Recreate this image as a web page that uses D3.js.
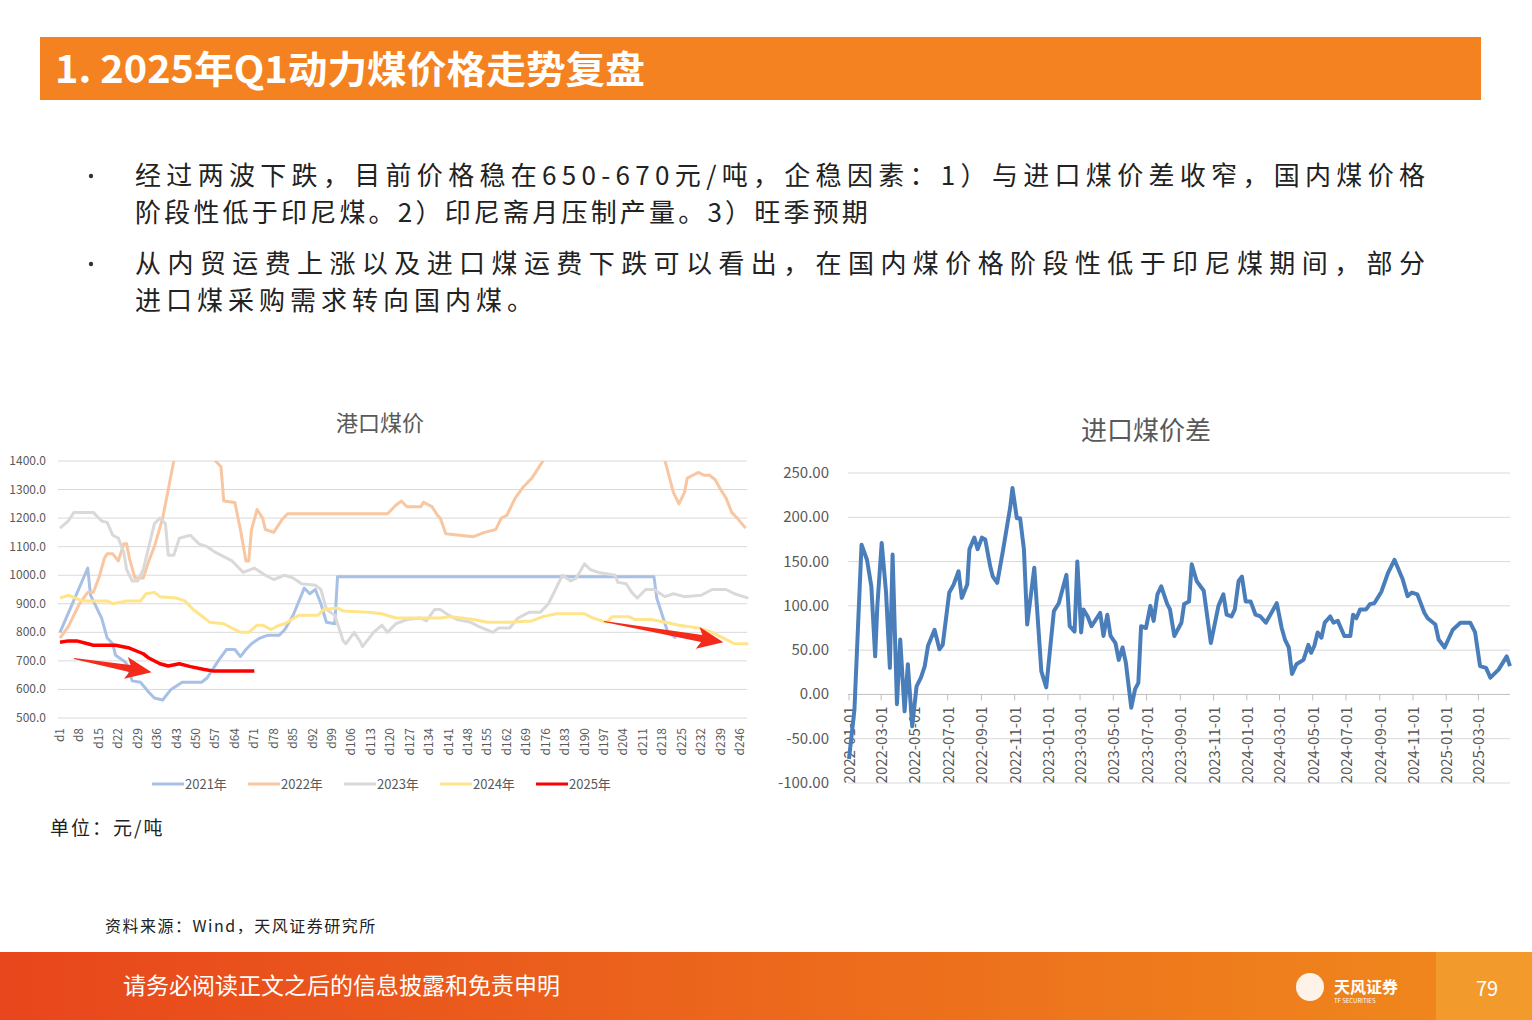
<!DOCTYPE html>
<html><head><meta charset="utf-8">
<script src="https://cdn.jsdelivr.net/npm/d3@7"></script>
<style>
body{margin:0;background:#fff;}
text{font-family:"Noto Sans CJK SC","Noto Sans",sans-serif;}
</style></head>
<body>
<script>
'use strict';
// ---- left chart: port coal price, [day, value]
const dayTicks = ["d1","d8","d15","d22","d29","d36","d43","d50","d57","d64","d71","d78","d85","d92","d99","d106","d113","d120","d127","d134","d141","d148","d155","d162","d169","d176","d183","d190","d197","d204","d211","d218","d225","d232","d239","d246"];
const priceTicks = [500,600,700,800,900,1000,1100,1200,1300,1400];
const years = ["2021年","2022年","2023年","2024年","2025年"];
const s2021 = [[1,800],[11,1025],[12,930],[16,850],[18,780],[20,760],[21,720],[24,700],[25,690],[27,630],[30,625],[33,590],[35,570],[38,563],[41,600],[45,625],[52,625],[54,640],[58,700],[61,740],[64,740],[66,715],[68,740],[70,760],[73,780],[76,790],[80,790],[82,810],[85,860],[89,955],[91,935],[93,950],[95,900],[97,835],[100,830],[101,995],[215,995],[216,920],[218,860],[220,800],[223,780]];
const s2022 = [[1,780],[4,820],[8,900],[11,940],[13,940],[15,990],[17,1060],[18,1075],[20,1075],[22,1050],[24,1110],[25,1110],[26,1060],[28,990],[31,990],[33,1050],[35,1100],[38,1200],[42,1400],[46,1500],[53,1500],[57,1400],[59,1380],[60,1260],[64,1255],[66,1160],[68,1050],[69,1050],[70,1160],[72,1230],[74,1200],[75,1160],[78,1150],[81,1195],[83,1215],[119,1215],[122,1245],[124,1260],[126,1240],[131,1240],[132,1255],[135,1240],[137,1210],[138,1200],[140,1145],[145,1140],[150,1135],[154,1150],[158,1160],[160,1200],[162,1210],[165,1270],[168,1310],[171,1340],[173,1370],[175,1400],[180,1480],[214,1480],[219,1400],[222,1290],[224,1250],[226,1290],[227,1340],[229,1350],[231,1360],[233,1350],[235,1350],[237,1335],[239,1300],[241,1270],[243,1220],[245,1200],[248,1165]];
const s2023 = [[1,1165],[4,1190],[6,1220],[13,1220],[16,1190],[18,1185],[20,1140],[22,1130],[24,1080],[25,1020],[27,980],[29,980],[31,1020],[33,1100],[35,1180],[37,1200],[39,1180],[40,1070],[42,1070],[44,1130],[48,1140],[51,1110],[54,1100],[57,1080],[60,1065],[63,1050],[67,1010],[71,1025],[75,1000],[78,985],[82,1000],[85,990],[88,970],[93,965],[95,950],[97,880],[100,860],[102,800],[103,770],[104,760],[107,800],[109,770],[110,750],[114,800],[117,825],[119,800],[122,830],[126,845],[131,850],[133,840],[136,880],[138,880],[141,860],[144,845],[149,835],[152,820],[157,800],[159,815],[163,815],[166,850],[170,870],[174,870],[177,900],[180,960],[182,1000],[185,980],[187,990],[190,1040],[192,1020],[195,1010],[201,1000],[202,975],[205,970],[207,940],[209,920],[212,950],[215,950],[219,925],[222,935],[226,925],[232,930],[236,950],[241,950],[244,935],[249,920]];
const s2024 = [[1,920],[4,930],[9,910],[18,910],[20,900],[25,910],[30,910],[32,935],[35,940],[37,925],[43,920],[46,910],[49,880],[53,850],[55,835],[60,830],[63,815],[66,800],[69,800],[72,825],[74,825],[77,810],[80,825],[82,830],[87,860],[94,860],[96,880],[101,885],[103,875],[112,870],[117,865],[122,850],[128,850],[138,850],[142,855],[150,845],[155,835],[162,835],[171,840],[175,855],[180,865],[190,865],[193,850],[198,835],[200,855],[206,855],[208,845],[214,845],[219,835],[224,825],[231,815],[236,800],[239,785],[244,760],[249,760]];
const s2025 = [[1,765],[4,770],[7,770],[11,760],[13,755],[21,755],[26,745],[31,725],[33,710],[37,690],[40,682],[44,690],[48,680],[53,670],[56,665],[71,665]];
const leftSeries = [s2021, s2022, s2023, s2024, s2025];
const leftColors = ["#A9C0E6","#F8C6A0","#D9D9D9","#FFE48A","#FF0000"];
const leftWidths = [3,3,3,3,3.5];

// ---- right chart: import coal price spread
const spreadTicks = [-100,-50,0,50,100,150,200,250];
const spread = [["2022-01-01",-73],["2022-01-11",-17],["2022-01-24",169],["2022-02-03",152],["2022-02-11",122],["2022-02-18",43],["2022-02-22",100],["2022-03-02",171],["2022-03-10",115],["2022-03-17",30],["2022-03-22",158],["2022-03-30",-11],["2022-04-05",62],["2022-04-13",-19],["2022-04-19",34],["2022-04-27",-36],["2022-05-05",9],["2022-05-13",19],["2022-05-20",32],["2022-05-26",55],["2022-06-07",73],["2022-06-16",51],["2022-06-22",56],["2022-07-04",115],["2022-07-12",124],["2022-07-21",139],["2022-07-27",109],["2022-08-06",124],["2022-08-10",164],["2022-08-19",177],["2022-08-25",164],["2022-09-02",177],["2022-09-08",175],["2022-09-17",145],["2022-09-22",133],["2022-09-30",126],["2022-10-11",164],["2022-10-24",212],["2022-10-28",233],["2022-11-05",199],["2022-11-11",199],["2022-11-18",164],["2022-11-24",79],["2022-12-07",143],["2022-12-20",26],["2022-12-29",8],["2023-01-12",94],["2023-01-21",103],["2023-02-04",135],["2023-02-10",77],["2023-02-19",71],["2023-02-24",150],["2023-03-03",70],["2023-03-07",96],["2023-03-15",88],["2023-03-22",77],["2023-04-07",92],["2023-04-13",66],["2023-04-20",90],["2023-04-26",66],["2023-05-05",58],["2023-05-11",39],["2023-05-18",53],["2023-05-24",36],["2023-06-03",-15],["2023-06-10",6],["2023-06-16",13],["2023-06-21",77],["2023-06-30",75],["2023-07-08",100],["2023-07-14",83],["2023-07-21",113],["2023-07-28",122],["2023-08-08",102],["2023-08-13",96],["2023-08-21",66],["2023-09-03",81],["2023-09-08",102],["2023-09-17",105],["2023-09-22",147],["2023-10-01",128],["2023-10-14",117],["2023-10-27",58],["2023-11-10",100],["2023-11-19",113],["2023-11-25",90],["2023-12-04",88],["2023-12-10",96],["2023-12-17",128],["2023-12-23",133],["2023-12-30",105],["2024-01-08",105],["2024-01-17",90],["2024-01-26",88],["2024-02-05",81],["2024-02-25",103],["2024-03-05",75],["2024-03-11",62],["2024-03-18",53],["2024-03-24",23],["2024-04-01",34],["2024-04-14",39],["2024-04-23",56],["2024-04-28",47],["2024-05-04",55],["2024-05-10",70],["2024-05-17",64],["2024-05-23",81],["2024-06-02",88],["2024-06-08",81],["2024-06-16",83],["2024-06-28",66],["2024-07-09",66],["2024-07-14",90],["2024-07-20",86],["2024-07-27",96],["2024-08-07",96],["2024-08-14",102],["2024-08-22",103],["2024-09-04",116],["2024-09-16",137],["2024-09-28",152],["2024-10-13",130],["2024-10-22",111],["2024-10-30",115],["2024-11-09",113],["2024-11-22",92],["2024-11-28",86],["2024-12-12",79],["2024-12-18",62],["2024-12-29",53],["2025-01-13",73],["2025-01-27",81],["2025-02-14",81],["2025-02-23",70],["2025-03-04",32],["2025-03-15",30],["2025-03-23",19],["2025-04-07",28],["2025-04-22",43],["2025-04-28",32]];

const bullets = [
  ["经过两波下跌，目前价格稳在650-670元/吨，企稳因素：1）与进口煤价差收窄，国内煤价格", "阶段性低于印尼煤。2）印尼斋月压制产量。3）旺季预期"],
  ["从内贸运费上涨以及进口煤运费下跌可以看出，在国内煤价格阶段性低于印尼煤期间，部分", "进口煤采购需求转向国内煤。"]
];

const W = 1532, H = 1020;
const svg = d3.select("body").append("svg").attr("width", W).attr("height", H);

// header
svg.append("rect").attr("x", 40).attr("y", 37).attr("width", 1441).attr("height", 63).attr("fill", "#F58220");
svg.append("text").attr("x", 55).attr("y", 83).attr("fill", "#fff")
  .attr("font-size", 38).attr("font-weight", "bold").attr("textLength", 590).attr("lengthAdjust", "spacingAndGlyphs")
  .text("1. 2025年Q1动力煤价格走势复盘");

// bullets
const lineY = [[176, 213], [264, 301]];
bullets.forEach((b, i) => {
  svg.append("circle").attr("cx", 91).attr("cy", lineY[i][0]).attr("r", 2.2).attr("fill", "#333");
  b.forEach((t, j) => {
    const tx = svg.append("text").attr("x", 135).attr("y", lineY[i][j] + 9)
      .attr("font-size", 26).attr("fill", "#222").text(t);
    if (j === 0) tx.attr("textLength", 1290).attr("lengthAdjust", "spacing");
    else tx.attr("letter-spacing", i === 0 ? 3.2 : 5);
  });
});

// ---- left chart
const lx = d3.scaleLinear().domain([1, 246]).range([60, 740]);
const ly = d3.scaleLinear().domain([500, 1400]).range([718, 461]);
const gl = svg.append("g");
svg.append("text").attr("x", 380).attr("y", 431).attr("text-anchor", "middle")
  .attr("font-size", 22).attr("fill", "#595959").text("港口煤价");
gl.append("g").selectAll("line").data(priceTicks).join("line")
  .attr("x1", 58).attr("x2", 747).attr("y1", d => ly(d)).attr("y2", d => ly(d))
  .attr("stroke", "#D9D9D9").attr("stroke-width", 1);
gl.append("g").selectAll("text").data(priceTicks).join("text")
  .attr("x", 46).attr("y", d => ly(d) + 4).attr("text-anchor", "end")
  .attr("font-size", 12).attr("fill", "#595959").text(d => d.toFixed(1));
gl.append("g").selectAll("text").data(dayTicks).join("text")
  .attr("transform", d => `translate(${lx(+d.slice(1)) + 4},728) rotate(-90)`)
  .attr("text-anchor", "end").attr("font-size", 12).attr("fill", "#595959").text(d => d);
svg.append("clipPath").attr("id", "lclip").append("rect")
  .attr("x", 50).attr("y", ly(1400)).attr("width", 700).attr("height", ly(500) - ly(1400) + 2);
const lline = d3.line().x(d => lx(d[0])).y(d => ly(d[1]));
const lg = gl.append("g").attr("clip-path", "url(#lclip)");
leftSeries.forEach((s, i) => {
  lg.append("path").attr("d", lline(s)).attr("fill", "none")
    .attr("stroke", leftColors[i]).attr("stroke-width", leftWidths[i]).attr("stroke-linejoin", "round");
});
// arrows
function arrow(x1, y1, x2, y2) {
  const a = Math.atan2(y2 - y1, x2 - x1), L = Math.hypot(x2 - x1, y2 - y1);
  const p = [[0, -0.5], [L - 22, -3.5], [L - 26, -11], [L, 0], [L - 26, 11], [L - 22, 3.5], [0, 0.5]];
  svg.append("polygon").attr("fill", "#F42A1B")
    .attr("transform", `translate(${x1},${y1}) rotate(${a * 180 / Math.PI})`)
    .attr("points", p.map(q => q.join(",")).join(" "));
}
arrow(lx(6), ly(708), lx(34), ly(660));
arrow(lx(197), ly(838), lx(240), ly(765));
// legend
const legX = [152, 248, 344, 440, 536];
years.forEach((y, i) => {
  svg.append("line").attr("x1", legX[i]).attr("x2", legX[i] + 32).attr("y1", 784).attr("y2", 784)
    .attr("stroke", leftColors[i]).attr("stroke-width", 3);
  svg.append("text").attr("x", legX[i] + 33).attr("y", 789).attr("font-size", 13).attr("fill", "#595959").text(y);
});

// ---- right chart
const parse = d3.timeParse("%Y-%m-%d");
const rx = d3.scaleTime().domain([parse("2022-01-01"), parse("2025-04-28")]).range([849, 1510]);
const ry = d3.scaleLinear().domain([-100, 250]).range([783, 473]);
svg.append("text").attr("x", 1146).attr("y", 440).attr("text-anchor", "middle")
  .attr("font-size", 26).attr("fill", "#595959").text("进口煤价差");
const gr = svg.append("g");
gr.append("g").selectAll("line").data(spreadTicks.filter(d => d !== 0)).join("line")
  .attr("x1", 848).attr("x2", 1510).attr("y1", d => ry(d)).attr("y2", d => ry(d))
  .attr("stroke", "#D9D9D9");
gr.append("g").selectAll("text").data(spreadTicks).join("text")
  .attr("x", 829).attr("y", d => ry(d) + 5).attr("text-anchor", "end")
  .attr("font-size", 15).attr("fill", "#595959").text(d => d.toFixed(2));
const monthTicks = d3.timeMonth.range(parse("2022-01-01"), parse("2025-04-02"), 2);
gr.append("line").attr("x1", 848).attr("x2", 1510).attr("y1", ry(0)).attr("y2", ry(0)).attr("stroke", "#BFBFBF");
gr.append("g").selectAll("line").data(monthTicks).join("line")
  .attr("x1", d => rx(d)).attr("x2", d => rx(d)).attr("y1", ry(0)).attr("y2", ry(0) + 6).attr("stroke", "#BFBFBF");
gr.append("g").selectAll("text").data(monthTicks).join("text")
  .attr("transform", d => `translate(${rx(d) + 6},${ry(0) + 12}) rotate(-90)`)
  .attr("text-anchor", "end").attr("font-size", 15).attr("fill", "#595959")
  .text(d => d3.timeFormat("%Y-%m-%d")(d));
gr.append("path").attr("d", d3.line().x(d => rx(parse(d[0]))).y(d => ry(d[1]))(spread))
  .attr("fill", "none").attr("stroke", "#4A7EBB").attr("stroke-width", 4).attr("stroke-linejoin", "round");

// notes
svg.append("text").attr("x", 50).attr("y", 835).attr("font-size", 19).attr("letter-spacing", 2).attr("fill", "#222").text("单位：元/吨");
svg.append("text").attr("x", 105).attr("y", 932).attr("font-size", 16).attr("letter-spacing", 1.5).attr("fill", "#222").text("资料来源：Wind，天风证券研究所");

// footer
const grad = svg.append("defs").append("linearGradient").attr("id", "fg");
grad.append("stop").attr("offset", "0%").attr("stop-color", "#E8461C");
grad.append("stop").attr("offset", "100%").attr("stop-color", "#F08A1C");
svg.append("rect").attr("x", 0).attr("y", 952).attr("width", W).attr("height", 68).attr("fill", "url(#fg)");
svg.append("rect").attr("x", 1436).attr("y", 952).attr("width", 96).attr("height", 68).attr("fill", "#F39A2C");
svg.append("text").attr("x", 123).attr("y", 994).attr("font-size", 23).attr("fill", "#fff").text("请务必阅读正文之后的信息披露和免责申明");
svg.append("circle").attr("cx", 1310).attr("cy", 987).attr("r", 14).attr("fill", "#fff").attr("opacity", 0.9);
svg.append("text").attr("x", 1334).attr("y", 993).attr("font-size", 16).attr("font-weight", "bold").attr("fill", "#fff").text("天风证券");
svg.append("text").attr("x", 1334).attr("y", 1003).attr("font-size", 6).attr("fill", "#fff").text("TF SECURITIES");
svg.append("text").attr("x", 1487).attr("y", 996).attr("text-anchor", "middle").attr("font-size", 20).attr("fill", "#fff").text("79");
</script>
</body></html>
